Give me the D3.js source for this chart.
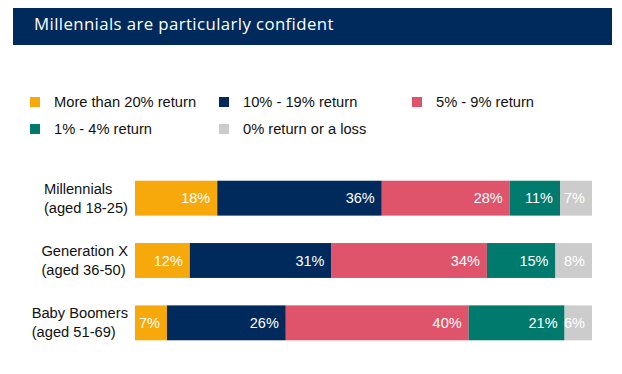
<!DOCTYPE html>
<html><head><meta charset="utf-8">
<script src="https://cdn.jsdelivr.net/npm/d3@7"></script>
<style>body{margin:0;background:#fff}svg{display:block}</style>
</head><body>
<script>
const title = "Millennials are particularly confident";
const groups = ["Millennials", "Generation X", "Baby Boomers"];
const groupAges = ["(aged 18-25)", "(aged 36-50)", "(aged 51-69)"];
const seriesNames = ["More than 20% return", "10% - 19% return", "5% - 9% return", "1% - 4% return", "0% return or a loss"];
const seriesColors = ["#F7A80A", "#002A5C", "#DF536B", "#007A6C", "#CCCCCC"];
const moreThan20 = [18, 12, 7];
const r10to19 = [36, 31, 26];
const r5to9 = [28, 34, 40];
const r1to4 = [11, 15, 21];
const r0orLoss = [7, 8, 6];
const seriesValues = [moreThan20, r10to19, r5to9, r1to4, r0orLoss];

const W = 622, H = 374;
const svg = d3.select("body").append("svg").attr("width", W).attr("height", H);
const font = "'Liberation Sans', Arial, sans-serif";

// title bar
svg.append("rect").attr("x", 13).attr("y", 8).attr("width", 599).attr("height", 37).attr("fill", "#002A5C");
svg.append("text").attr("x", 34).attr("y", 30).attr("fill", "#fff")
  .attr("font-family", "'Open Sans', sans-serif").attr("font-size", 16.8)
  .attr("letter-spacing", 0.4).text(title);

// legend
const legPos = [[30, 102], [219, 102], [412, 102], [30, 129], [219, 129]];
const leg = svg.append("g");
seriesNames.forEach((n, i) => {
  const [lx, ly] = legPos[i];
  leg.append("rect").attr("x", lx).attr("y", ly - 5).attr("width", 10).attr("height", 10).attr("fill", seriesColors[i]);
  leg.append("text").attr("x", lx + 24).attr("y", ly).attr("dy", "0.35em")
    .attr("font-family", font).attr("font-size", 14.7).attr("fill", "#111").text(n);
});

// bars
const x = d3.scaleLinear().domain([0, 100]).range([135, 592]);
const y = d3.scaleBand().domain(groups).range([167, 354]).paddingInner(0.44).paddingOuter(0.22);
const stackData = groups.map((g, gi) => {
  const o = {group: g};
  seriesNames.forEach((s, si) => o[s] = seriesValues[si][gi]);
  return o;
});
const stack = d3.stack().keys(seriesNames)(stackData);

const layers = svg.append("g").selectAll("g").data(stack).join("g")
  .attr("fill", (d, i) => seriesColors[i]);
layers.selectAll("rect").data(d => d).join("rect")
  .attr("x", d => x(d[0])).attr("width", d => x(d[1]) - x(d[0]))
  .attr("y", d => y(d.data.group)).attr("height", y.bandwidth());
layers.selectAll("text").data(d => d).join("text")
  .attr("x", d => x(d[1]) - 7).attr("y", d => y(d.data.group) + y.bandwidth() / 2)
  .attr("dy", "0.35em").attr("text-anchor", "end")
  .attr("font-family", font).attr("font-size", 14.5).attr("fill", "#fff")
  .text(d => (d[1] - d[0]) + "%");

// category labels
groups.forEach((g, i) => {
  const cy = y(g) + y.bandwidth() / 2;
  const t = svg.append("g");
  const l1 = t.append("text").attr("y", cy - 9.5).attr("dy", "0.35em").text(g);
  const l2 = t.append("text").attr("y", cy + 9.5).attr("dy", "0.35em").text(groupAges[i]);
  t.selectAll("text").attr("font-family", font).attr("font-size", 14.7).attr("fill", "#111");
  const w = Math.max(l1.node().getComputedTextLength(), l2.node().getComputedTextLength());
  t.selectAll("text").attr("x", 128 - w);
});
</script>
</body></html>
